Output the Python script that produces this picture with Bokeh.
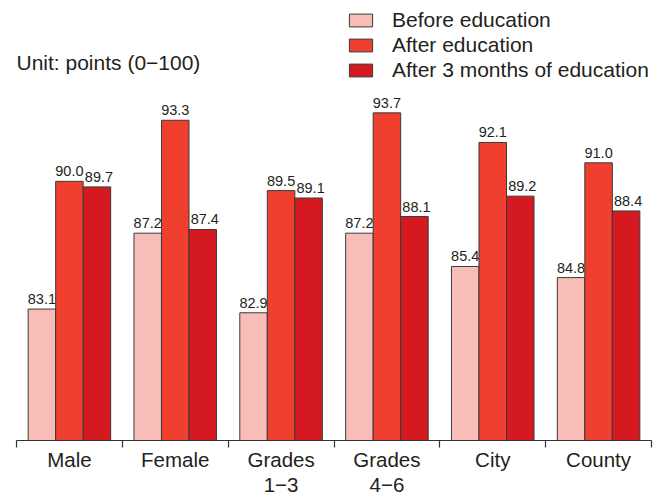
from bokeh.plotting import figure
from bokeh.models import Range1d, FixedTicker, Label, Legend, LegendItem, ColumnDataSource
from bokeh.core.properties import value
from bokeh.embed import file_html
from bokeh.resources import INLINE

categories = ["Male", "Female", "Grades\n1\u22123", "Grades\n4\u22126", "City", "County"]
before = [83.1, 87.2, 82.9, 87.2, 85.4, 84.8]
after = [90.0, 93.3, 89.5, 93.7, 92.1, 91.0]
after3 = [89.7, 87.4, 89.1, 88.1, 89.2, 88.4]
series_names = ["Before education", "After education", "After 3 months of education"]
colors = ["#F9BDB8", "#EE3F2F", "#D51920"]

FONT = "Liberation Sans"
TXT = "#231f20"
EDGE = "#3a3a3a"

y0, y1 = 76.0, 99.77
p = figure(width=668, height=498, output_backend="svg", toolbar_location=None,
           x_range=Range1d(0, len(categories)), y_range=Range1d(y0, y1),
           min_border_left=16, min_border_right=17, min_border_top=0, min_border_bottom=57)
p.outline_line_color = None
p.xgrid.visible = False
p.ygrid.visible = False
p.yaxis.visible = False

offsets = [-0.26, 0.0, 0.26]
label_dx = [0, 0, 2]
width = 0.26
renderers = []
for vals, off, col, dx in zip([before, after, after3], offsets, colors, label_dx):
    xs = [i + 0.5 + off for i in range(len(categories))]
    src = ColumnDataSource(dict(x=xs, top=vals, lab=["%.1f" % v for v in vals]))
    r = p.vbar(x="x", top="top", bottom=y0 - 5, width=width, source=src,
               fill_color=col, line_color=EDGE, line_width=1)
    renderers.append(r)
    p.text(x="x", y="top", text="lab", source=src, text_align="center",
           text_baseline="alphabetic", x_offset=dx, y_offset=-10, text_font=value(FONT),
           text_font_size="14.5px", text_color=TXT)

ax = p.xaxis[0]
centers = [i + 0.5 for i in range(len(categories))]
ax.ticker = FixedTicker(ticks=centers, minor_ticks=list(range(len(categories) + 1)))
ax.major_label_overrides = {c: lab for c, lab in zip(centers, categories)}
ax.major_tick_line_color = None
ax.major_tick_out = 0
ax.major_tick_in = 0
ax.minor_tick_line_color = "#333333"
ax.minor_tick_line_width = 1.2
ax.minor_tick_out = 7
ax.minor_tick_in = 0
ax.axis_line_color = "#333333"
ax.axis_line_width = 1.2
ax.major_label_text_font = FONT
ax.major_label_text_font_size = "20.5px"
ax.major_label_text_color = TXT
ax.major_label_text_line_height = 1.1
ax.major_label_standoff = 0

legend = Legend(items=[LegendItem(label=n, renderers=[r]) for n, r in zip(series_names, renderers)],
                location=(330, 358), glyph_width=29, glyph_height=16, label_height=16,
                label_standoff=17, spacing=1, padding=0, margin=0,
                label_text_font=FONT, label_text_font_size="21px", label_text_color=TXT,
                background_fill_alpha=0, border_line_color=None)
p.add_layout(legend)

p.add_layout(Label(x=0, y=441 - 63, x_units="screen", y_units="screen",
                   text="Unit: points (0\u2212100)", text_baseline="alphabetic",
                   text_font=FONT, text_font_size="21px", text_color=TXT))

open("out.html", "w").write(file_html(p, INLINE))
